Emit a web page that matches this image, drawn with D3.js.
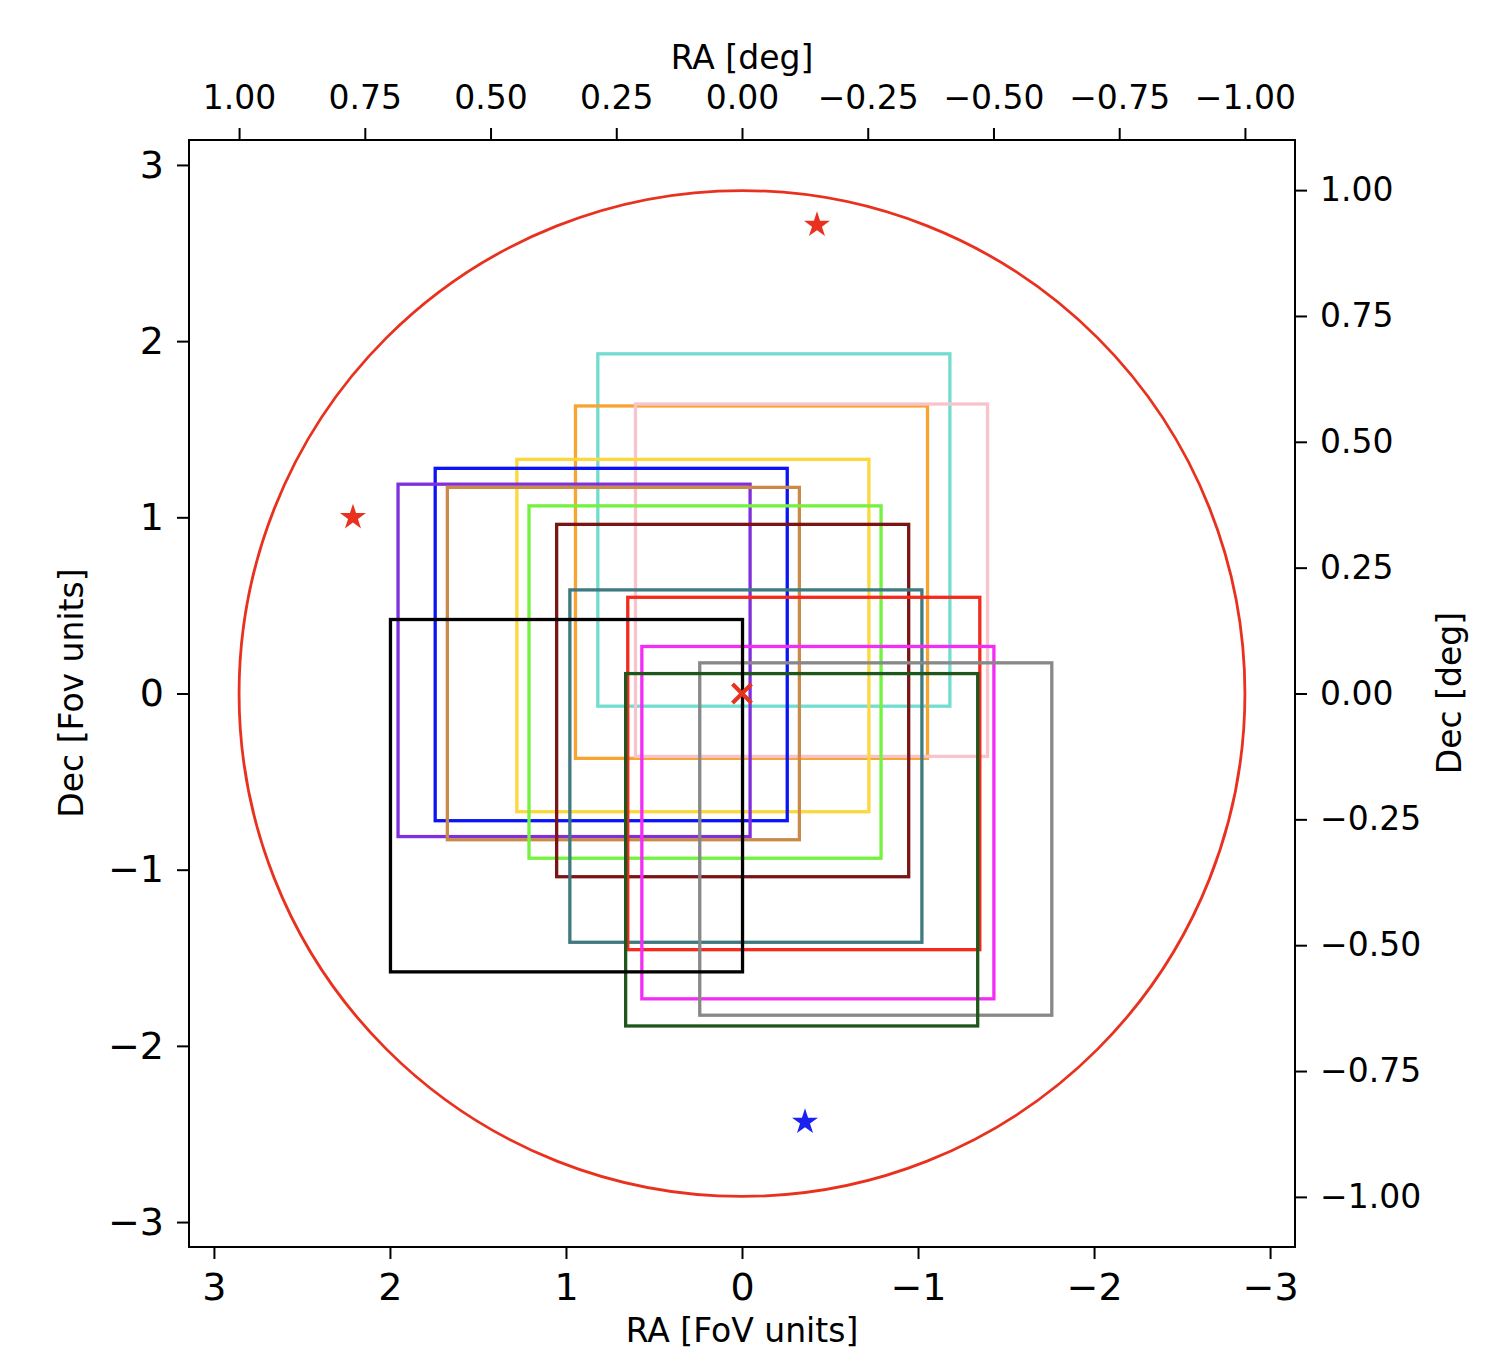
<!DOCTYPE html>
<html>
<head>
<meta charset="utf-8">
<script src="https://cdn.jsdelivr.net/npm/d3@7"></script>
<style>
  body { margin: 0; background: #fff; }
  text { font-family: "DejaVu Sans", sans-serif; fill: #000; }
</style>
</head>
<body>
<svg id="chart" width="1506" height="1351"></svg>
<script>
// pointings (centre of each FoV box), FoV units
const boxRA  = [-0.181, -0.054, -0.395, 0.279, 0.743, 0.954, 0.674, 0.210, 0.053, -0.022, -0.351, -0.431, -0.760, -0.339, 0.997];
const boxDec = [0.928, 0.632, 0.643, 0.329, 0.278, 0.188, 0.170, 0.065, -0.040, -0.412, -0.454, -0.733, -0.826, -0.887, -0.580];
const boxColor = ['#72ddd0', '#f8a431', '#f8c4cc', '#fdd73e', '#0a14f5', '#7f2fdc', '#c98a4a', '#73f23f',
                  '#7b1414', '#3e7a80', '#f52a1e', '#f22ef5', '#888888', '#1f561b', '#000000'];
const boxSize = 2; // FoV box side in FoV units

// stars
const starRA  = [-0.426, 2.210, -0.358];
const starDec = [2.659, 1.000, -2.432];
const starColor = ['#e8321f', '#e8321f', '#1a22f0'];

// field centre and radius
const centreRA = 0, centreDec = 0;
const radiusDeg = 1.0;
const fovDeg = 0.35;   // 1 FoV unit in degrees

const fovTicks = [3, 2, 1, 0, -1, -2, -3];
const degTicks = [1, 0.75, 0.5, 0.25, 0, -0.25, -0.5, -0.75, -1];

const svg = d3.select('#chart');
const m = {left: 189, right: 1295, top: 140, bottom: 1247};
const lim = Math.PI;

const x = d3.scaleLinear().domain([lim, -lim]).range([m.left, m.right]);
const y = d3.scaleLinear().domain([lim, -lim]).range([m.top, m.bottom]);
const xDeg = d3.scaleLinear().domain([lim * fovDeg, -lim * fovDeg]).range([m.left, m.right]);
const yDeg = d3.scaleLinear().domain([lim * fovDeg, -lim * fovDeg]).range([m.top, m.bottom]);

const plot = svg.append('g');

// big circle
plot.append('circle')
    .attr('cx', x(centreRA))
    .attr('cy', y(centreDec))
    .attr('r', x(0) - x(radiusDeg / fovDeg))
    .attr('fill', 'none')
    .attr('stroke', '#e8321f')
    .attr('stroke-width', 2.8);

// boxes
boxRA.forEach((ra, i) => {
    const h = boxSize / 2;
    plot.append('rect')
        .attr('x', x(ra + h))
        .attr('y', y(boxDec[i] + h))
        .attr('width', x(ra - h) - x(ra + h))
        .attr('height', y(boxDec[i] - h) - y(boxDec[i] + h))
        .attr('fill', 'none')
        .attr('stroke', boxColor[i])
        .attr('stroke-width', 3.3);
});

// centre cross
const cx = x(centreRA), cy = y(centreDec), k = 9.5;
plot.append('path')
    .attr('d', `M${cx - k},${cy - k}L${cx + k},${cy + k}M${cx - k},${cy + k}L${cx + k},${cy - k}`)
    .attr('stroke', '#e8321f')
    .attr('stroke-width', 4);

// stars
const star = d3.symbol().type(d3.symbolStar).size(210);
starRA.forEach((ra, i) => {
    plot.append('path')
        .attr('d', star())
        .attr('transform', `translate(${x(ra)},${y(starDec[i])})`)
        .attr('fill', starColor[i]);
});

// axes
function styleAxis(g, fs) {
    g.select('.domain').remove();
    g.selectAll('.tick line').attr('stroke', '#000').attr('stroke-width', 2);
    g.selectAll('.tick text').style('font-size', fs + 'px').attr('fill', '#000');
}

svg.append('g')
    .attr('transform', `translate(0,${m.bottom})`)
    .call(d3.axisBottom(x).tickValues(fovTicks).tickFormat(d3.format('d')).tickSize(12).tickPadding(14))
    .call(g => styleAxis(g, 38));

svg.append('g')
    .attr('transform', `translate(${m.left},0)`)
    .call(d3.axisLeft(y).tickValues(fovTicks).tickFormat(d3.format('d')).tickSize(12).tickPadding(13))
    .call(g => styleAxis(g, 38));

svg.append('g')
    .attr('transform', `translate(0,${m.top})`)
    .call(d3.axisTop(xDeg).tickValues(degTicks).tickFormat(d3.format('.2f')).tickSize(12).tickPadding(19))
    .call(g => styleAxis(g, 33));

svg.append('g')
    .attr('transform', `translate(${m.right},0)`)
    .call(d3.axisRight(yDeg).tickValues(degTicks).tickFormat(d3.format('.2f')).tickSize(12).tickPadding(13))
    .call(g => styleAxis(g, 33));

// frame
svg.append('rect')
    .attr('x', m.left).attr('y', m.top)
    .attr('width', m.right - m.left).attr('height', m.bottom - m.top)
    .attr('fill', 'none').attr('stroke', '#000').attr('stroke-width', 2);

// axis titles
svg.append('text').attr('x', 742).attr('y', 1342).attr('text-anchor', 'middle')
    .style('font-size', '33px').text('RA [FoV units]');
svg.append('text').attr('x', 742).attr('y', 69).attr('text-anchor', 'middle')
    .style('font-size', '33px').text('RA [deg]');
svg.append('text').attr('transform', 'translate(83,693) rotate(-90)').attr('text-anchor', 'middle')
    .style('font-size', '33px').text('Dec [Fov units]');
svg.append('text').attr('transform', 'translate(1461,693) rotate(-90)').attr('text-anchor', 'middle')
    .style('font-size', '33px').text('Dec [deg]');
</script>
</body>
</html>
